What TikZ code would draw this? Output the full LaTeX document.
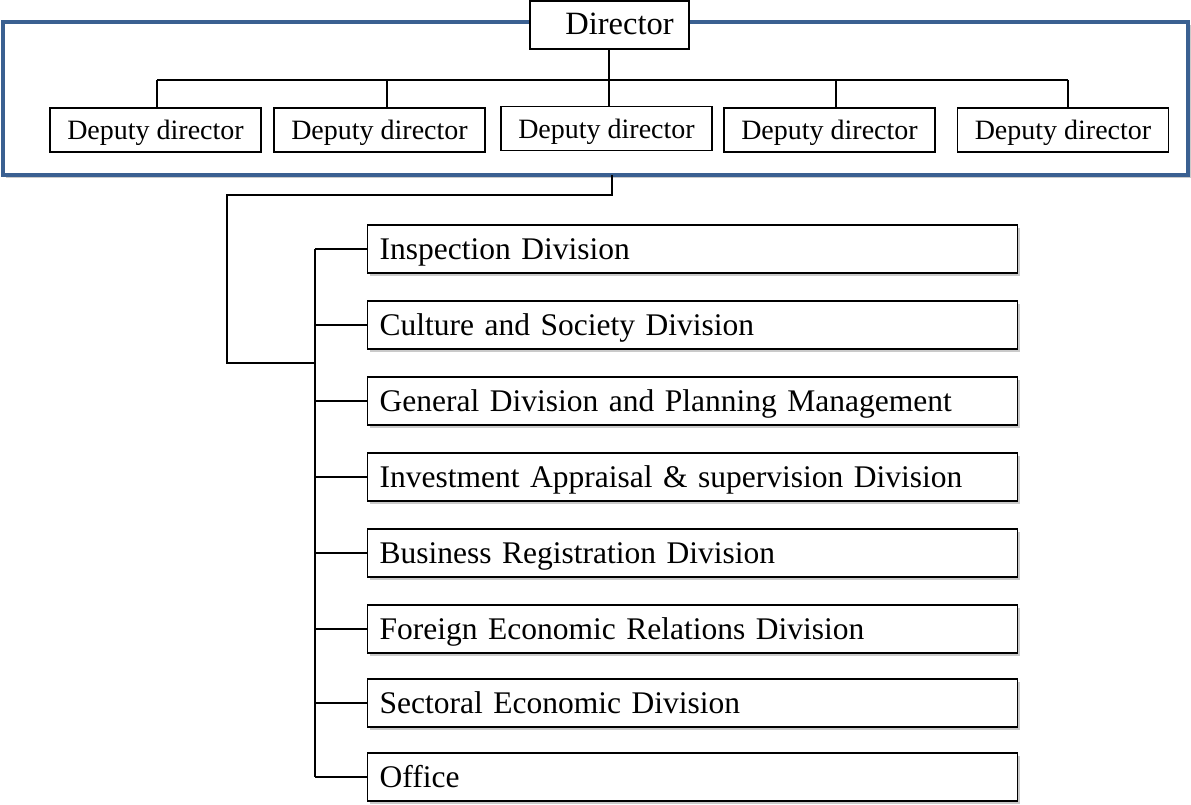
\documentclass[tikz,border=0pt]{standalone}
\usepackage{fontspec}
\setmainfont{Liberation Serif}
\usetikzlibrary{shadows}
\definecolor{frameblue}{HTML}{3A6091}
\tikzset{
  softshadow/.style={drop shadow={shadow xshift=2.5pt,shadow yshift=-3pt,opacity=0.35,fill=black!60}},
  txt/.style={text height=20pt,text depth=0pt},
  depbox/.style={draw=black,line width=1.2pt,fill=white,txt,minimum width=211pt,minimum height=44pt,inner sep=0pt,font=\fontsize{28}{30}\selectfont},
  dirbox/.style={draw=black,line width=1.2pt,fill=white,txt,minimum width=159pt,minimum height=48pt,inner sep=0pt,font=\fontsize{32.5}{36}\selectfont},
  divbox/.style={draw=black,line width=1.2pt,fill=white,softshadow,txt,text width=626pt,inner xsep=12pt,inner ysep=0pt,minimum height=48pt,align=left,anchor=west,font=\fontsize{31.5}{34}\selectfont},
  conn/.style={draw=black,line width=1.2pt},
  frame/.style={draw=frameblue,line width=3.2pt,fill=white,softshadow}
}
\begin{document}
\begin{tikzpicture}[x=1pt,y=-1pt]
\useasboundingbox (0,0) rectangle (1191,805);
% frame
\node[frame,minimum width=1185pt,minimum height=153pt,inner sep=0pt] (frm) at (595.5,98.5) {};
% director
\node[dirbox] (dir) at (609.5,25) {\hspace*{20pt}Director};
% deputies
\node[depbox] (d1) at (155.5,130) {Deputy director};
\node[depbox] (d2) at (379.5,130) {Deputy director};
\node[depbox] (d3) at (606.5,128.5) {Deputy director};
\node[depbox] (d4) at (829.5,130) {Deputy director};
\node[depbox] (d5) at (1063,130) {Deputy director};
% bus
\coordinate (b1) at (157,80);
\coordinate (b2) at (387,80);
\coordinate (b3) at (609,80);
\coordinate (b4) at (836,80);
\coordinate (b5) at (1068,80);
\draw[conn] (b1) -- (b5);
\draw[conn] (b1) -- (b1 |- d1.north);
\draw[conn] (b2) -- (b2 |- d2.north);
\draw[conn] (b4) -- (b4 |- d4.north);
\draw[conn] (b5) -- (b5 |- d5.north);
\draw[conn] (b3 |- dir.south) -- (b3 |- d3.north);
% divisions
\node[divbox] (v1) at (367,249) {Inspection Division};
\node[divbox] (v2) at (367,325) {Culture and Society Division};
\node[divbox] (v3) at (367,401) {General Division and Planning Management};
\node[divbox] (v4) at (367,477) {Investment Appraisal \& supervision Division};
\node[divbox] (v5) at (367,553) {Business Registration Division};
\node[divbox] (v6) at (367,629) {Foreign Economic Relations Division};
\node[divbox] (v7) at (367,703) {Sectoral Economic Division};
\node[divbox] (v8) at (367,777) {Office};
% connectors below frame
\coordinate (f1) at (612,175);
\coordinate (k1) at (612,195);
\coordinate (k2) at (227,195);
\coordinate (k3) at (227,363);
\coordinate (j) at (315,363);
\draw[conn] (f1) -- (k1) -- (k2) -- (k3) -- (j);
\coordinate (top) at (315,249);
\coordinate (bot) at (315,777);
\draw[conn] (top) -- (bot);
\foreach \n in {v1,v2,v3,v4,v5,v6,v7,v8}{
  \draw[conn] (top |- \n.west) -- (\n.west);
}
\end{tikzpicture}
\end{document}
